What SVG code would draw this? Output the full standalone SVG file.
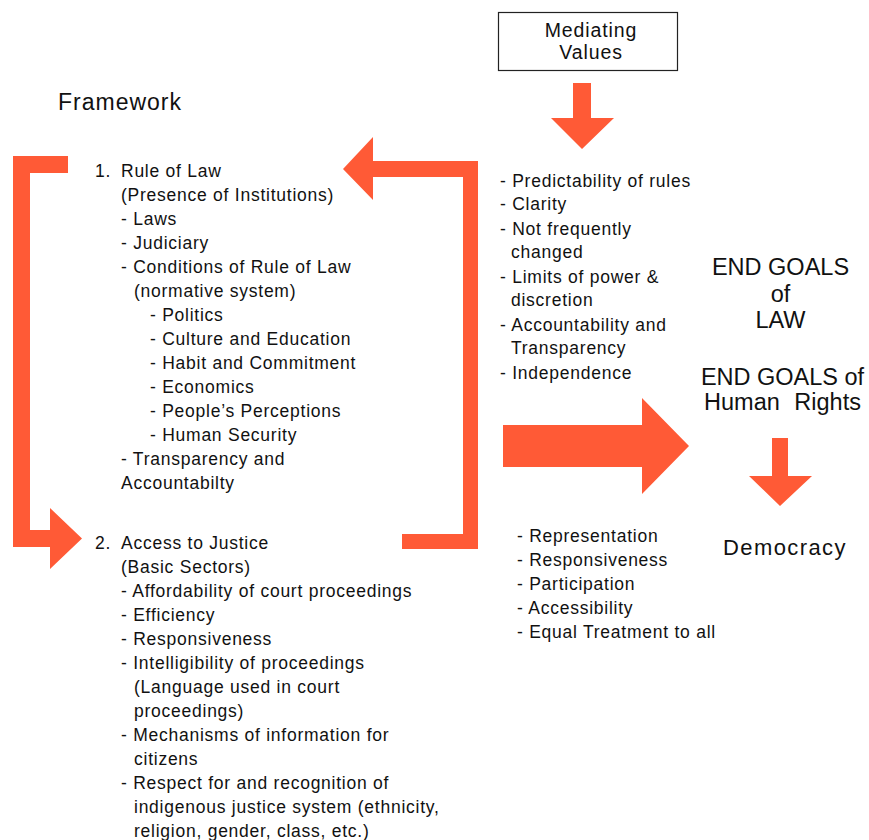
<svg xmlns="http://www.w3.org/2000/svg" width="869" height="840" viewBox="0 0 869 840">
<style>
.t{font-family:"Liberation Sans",Arial,sans-serif;font-size:17.5px;letter-spacing:0.75px;fill:#111}
.big{font-family:"Liberation Sans",Arial,sans-serif;font-size:23.5px;fill:#111;text-anchor:middle}
.arr{fill:#FF5A36}
</style>
<rect width="869" height="840" fill="#fff"/>
<g id="connectors">
<path class="arr" d="M13,156 L68,156 L68,173 L30,173 L30,530 L50,530 L50,508 L82,538.5 L50,569 L50,547 L13,547 Z"/>
<path class="arr" d="M343,169 L373,137 L373,161 L478,161 L478,549 L402,549 L402,534 L463,534 L463,177 L373,177 L373,200 Z"/>
<path class="arr" d="M573,83 L591,83 L591,118 L614,118 L582,149 L551,118 L573,118 Z"/>
<path class="arr" d="M503,425 L642,425 L642,398 L689,446 L642,494 L642,467 L503,467 Z"/>
<path class="arr" d="M772,438 L788,438 L788,476 L812,476 L780,506 L749,476 L772,476 Z"/>
</g>
<g id="mediating-values">
<rect x="498.5" y="12.5" width="179" height="58" fill="#fff" stroke="#222" stroke-width="1.2"/>
<text font-family="Liberation Sans,Arial,sans-serif" font-size="19.5" letter-spacing="0.9" fill="#111" text-anchor="middle"><tspan x="591" y="37">Mediating</tspan><tspan x="591" y="59">Values</tspan></text>
</g>
<g id="framework-title">
<text x="58" y="110" font-family="Liberation Sans,Arial,sans-serif" font-size="23" letter-spacing="1" fill="#111">Framework</text>
</g>
<g id="rule-of-law">
<text class="t" x="95" y="177">1.</text>
<text class="t" x="121" y="177">Rule of Law</text>
<text class="t" x="121" y="201">(Presence of Institutions)</text>
<text class="t" x="121" y="225">- Laws</text>
<text class="t" x="121" y="249">- Judiciary</text>
<text class="t" x="121" y="273">- Conditions of Rule of Law</text>
<text class="t" x="134" y="297">(normative system)</text>
<text class="t" x="150" y="321">- Politics</text>
<text class="t" x="150" y="345">- Culture and Education</text>
<text class="t" x="150" y="369">- Habit and Commitment</text>
<text class="t" x="150" y="393">- Economics</text>
<text class="t" x="150" y="417">- People’s Perceptions</text>
<text class="t" x="150" y="441">- Human Security</text>
<text class="t" x="121" y="465">- Transparency and</text>
<text class="t" x="121" y="489">Accountabilty</text>
</g>
<g id="access-to-justice">
<text class="t" x="95" y="549">2.</text>
<text class="t" x="121" y="549">Access to Justice</text>
<text class="t" x="121" y="573">(Basic Sectors)</text>
<text class="t" x="121" y="597">- Affordability of court proceedings</text>
<text class="t" x="121" y="621">- Efficiency</text>
<text class="t" x="121" y="645">- Responsiveness</text>
<text class="t" x="121" y="669">- Intelligibility of proceedings</text>
<text class="t" x="134" y="693">(Language used in court</text>
<text class="t" x="134" y="717">proceedings)</text>
<text class="t" x="121" y="741">- Mechanisms of information for</text>
<text class="t" x="134" y="765">citizens</text>
<text class="t" x="121" y="789">- Respect for and recognition of</text>
<text class="t" x="134" y="813">indigenous justice system (ethnicity,</text>
<text class="t" x="134" y="837">religion, gender, class, etc.)</text>
</g>
<g id="mediating-list">
<text class="t" x="500" y="187">- Predictability of rules</text>
<text class="t" x="500" y="210">- Clarity</text>
<text class="t" x="500" y="235">- Not frequently</text>
<text class="t" x="511" y="258">changed</text>
<text class="t" x="500" y="283">- Limits of power &amp;</text>
<text class="t" x="511" y="306">discretion</text>
<text class="t" x="500" y="331">- Accountability and</text>
<text class="t" x="511" y="354">Transparency</text>
<text class="t" x="500" y="379">- Independence</text>
</g>
<g id="end-goals-law">
<text class="big"><tspan x="780.5" y="275">END GOALS</tspan><tspan x="780.5" y="302">of</tspan><tspan x="780.5" y="328">LAW</tspan></text>
</g>
<g id="end-goals-human-rights">
<text class="big"><tspan x="782.5" y="385">END GOALS of</tspan><tspan x="782.5" y="410" word-spacing="8">Human Rights</tspan></text>
</g>
<g id="democracy-list">
<text class="t" x="517" y="542">- Representation</text>
<text class="t" x="517" y="566">- Responsiveness</text>
<text class="t" x="517" y="590">- Participation</text>
<text class="t" x="517" y="614">- Accessibility</text>
<text class="t" x="517" y="638">- Equal Treatment to all</text>
</g>
<g id="democracy">
<text x="785" y="555" font-family="Liberation Sans,Arial,sans-serif" font-size="22" letter-spacing="1.4" fill="#111" text-anchor="middle">Democracy</text>
</g>
</svg>
